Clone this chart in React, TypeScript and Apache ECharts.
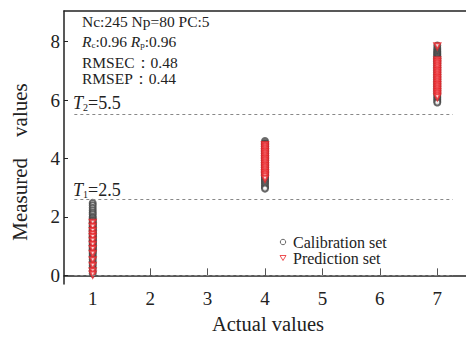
import React, { useEffect, useRef } from "react";
import * as echarts from "echarts";

const xTicks = [1, 2, 3, 4, 5, 6, 7];
const yTicks = [0, 2, 4, 6, 8];
const thresholds = [0, 2.6, 5.5];
const thresholdSpan = [0.68, 7.27];
const legendNames = ["Calibration set", "Prediction set"];
const xName = "Actual values";
const yName = "Measured    values";

const calX = [1, 4, 7];
const cal1 = [2.48, 2.4, 2.31, 2.23, 2.15, 2.09, 2.01, 1.96, 1.9, 1.86, 1.81, 1.78, 1.74, 1.7, 1.67, 1.62, 1.58, 1.55, 1.51, 1.48, 1.45, 1.41, 1.38, 1.35, 1.31, 1.28, 1.25, 1.21, 1.18, 1.15, 1.12, 1.08, 1.05, 1.01, 0.98, 0.95, 0.91, 0.88, 0.84, 0.8, 0.75, 0.69, 0.62, 0.55, 0.47, 0.4, 0.33, 0.24, 0.15, 0.06];
const cal4 = [4.6, 4.53, 4.5, 4.47, 4.44, 4.41, 4.38, 4.35, 4.32, 4.29, 4.26, 4.23, 4.2, 4.17, 4.13, 4.1, 4.06, 4.02, 3.98, 3.94, 3.9, 3.86, 3.82, 3.78, 3.74, 3.7, 3.66, 3.62, 3.58, 3.54, 3.5, 3.45, 3.4, 3.35, 3.3, 3.25, 3.2, 3.14, 3.08, 3.02, 2.97];
const cal7 = [7.87, 7.78, 7.72, 7.67, 7.63, 7.59, 7.55, 7.51, 7.47, 7.43, 7.39, 7.35, 7.31, 7.27, 7.22, 7.17, 7.12, 7.07, 7.02, 6.97, 6.92, 6.87, 6.82, 6.77, 6.72, 6.67, 6.62, 6.57, 6.52, 6.47, 6.42, 6.37, 6.32, 6.26, 6.2, 6.14, 6.08, 6.03, 5.97, 5.92];
const pred1 = [1.8, 1.66, 1.52, 1.4, 1.31, 1.18, 1.05, 0.9, 0.74, 0.52, 0.33, 0.14, 0.03];
const pred4 = [4.46, 4.4, 4.34, 4.28, 4.22, 4.16, 4.1, 4.04, 3.98, 3.92, 3.86, 3.8, 3.74, 3.68, 3.62, 3.56, 3.5, 3.44, 3.38, 3.31];
const pred7 = [7.84, 7.36, 7.3, 7.24, 7.18, 7.12, 7.06, 7.0, 6.94, 6.88, 6.82, 6.76, 6.7, 6.64, 6.58, 6.52, 6.46, 6.4, 6.34, 6.28, 6.22, 6.16, 6.1];

const FONT = "'Liberation Serif', 'Times New Roman', serif";
const INK = "#222";
const GREY = "#444";
const RED = "#e8262a";

export default function App() {
  const ref = useRef<HTMLDivElement>(null);
  useEffect(() => {
    if (!ref.current) return;
    const chart = echarts.init(ref.current, null, { renderer: "svg" });
    const calData: number[][] = [];
    [cal1, cal4, cal7].forEach((arr, i) => arr.forEach((v) => calData.push([calX[i], v])));
    const predData: number[][] = [];
    [pred1, pred4, pred7].forEach((arr, i) => arr.forEach((v) => predData.push([calX[i], v])));

    const axisLine = { show: true, lineStyle: { color: INK, width: 1.5 } };
    const txt = (text: string, x: number, y: number, size = 15.5) => ({
      type: "text",
      x,
      y,
      style: { text, fontFamily: FONT, fontSize: size, fill: INK, verticalAlign: "middle" },
    });
    const richSub = (size: number, sub: number, lh: number) => ({
      i: { fontFamily: FONT, fontStyle: "italic", fontSize: size, lineHeight: lh, verticalAlign: "bottom" },
      s: { fontFamily: FONT, fontSize: sub, lineHeight: Math.round(lh * 0.6), verticalAlign: "bottom" },
      n: { fontFamily: FONT, fontSize: size, lineHeight: lh, verticalAlign: "bottom" },
    });
    const option: any = {
      animation: false,
      textStyle: { fontFamily: FONT },
      grid: { left: 64, right: -3, top: 11, bottom: 49 },
      xAxis: [
        {
          type: "value",
          min: 0.5,
          max: 7.5,
          name: xName,
          nameLocation: "middle",
          nameGap: 24,
          nameTextStyle: { fontFamily: FONT, fontSize: 20.5, color: INK, padding: [0, 0, 0, 6] },
          axisLine,
          axisTick: { show: true, inside: true, length: 7, customValues: xTicks, lineStyle: { color: "#555" } },
          axisLabel: { customValues: xTicks, fontFamily: FONT, fontSize: 19, color: INK, margin: 5 },
          splitLine: { show: false },
        },
        {
          type: "value",
          position: "top",
          min: 0.5,
          max: 7.5,
          axisLine,
          axisTick: { show: false },
          axisLabel: { show: false },
          splitLine: { show: false },
        },
      ],
      yAxis: {
        type: "value",
        min: -0.3,
        max: 9.05,
        axisLine,
        axisTick: { show: true, inside: true, length: 4, customValues: yTicks, lineStyle: { color: INK } },
        axisLabel: { customValues: yTicks, fontFamily: FONT, fontSize: 19, color: INK, margin: 4 },
        splitLine: { show: false },
      },
      series: [
        {
          name: legendNames[0],
          type: "scatter",
          symbol: "emptyCircle",
          symbolSize: 6,
          itemStyle: { color: GREY, borderColor: GREY, borderWidth: 0.6 },
          data: calData,
          markLine: {
            silent: true,
            symbol: ["none", "none"],
            label: { show: false },
            lineStyle: { color: "#888", width: 1, type: [3, 3] },
            data: thresholds.map((t) => [
              { coord: [thresholdSpan[0], t] },
              { coord: [thresholdSpan[1], t] },
            ]),
          },
        },
        {
          name: legendNames[1],
          type: "scatter",
          symbol: "emptyTriangle",
          symbolRotate: 180,
          symbolSize: 6,
          itemStyle: { color: RED, borderColor: RED, borderWidth: 0.6 },
          data: predData,
        },
      ],
      graphic: [
        {
          type: "text",
          x: 20,
          y: 162,
          rotation: Math.PI / 2,
          style: { text: yName, fontFamily: FONT, fontSize: 21, fill: INK, align: "center", verticalAlign: "middle" },
        },
        txt("Nc:245 Np=80 PC:5", 82, 21),
        {
          type: "text",
          left: 82,
          top: 33,
          style: { text: "{i|R}{s|c}{n|:0.96 }{i|R}{s|p}{n|:0.96}", fill: INK, rich: richSub(15.5, 9, 16) },
        },
        txt("RMSEC：0.48", 82, 62),
        txt("RMSEP：0.44", 82, 78),
        {
          type: "text",
          left: 73,
          top: 94,
          style: { text: "{i|T}{s|2}{n|=5.5}", fill: INK, rich: richSub(18, 10, 19) },
        },
        {
          type: "text",
          left: 73,
          top: 181,
          style: { text: "{i|T}{s|1}{n|=2.5}", fill: INK, rich: richSub(18, 10, 19) },
        },
        {
          type: "circle",
          shape: { cx: 283, cy: 242, r: 2.7 },
          style: { fill: "none", stroke: GREY, lineWidth: 0.8 },
        },
        {
          type: "polygon",
          shape: { points: [[280, 255.5], [286, 255.5], [283, 260.5]] },
          style: { fill: "none", stroke: RED, lineWidth: 0.8 },
        },
        txt(legendNames[0], 293, 242, 16),
        txt(legendNames[1], 293, 258, 16),
      ],
    };
    chart.setOption(option);
    return () => chart.dispose();
  }, []);
  return <div ref={ref} style={{ width: 466, height: 339, position: "absolute", left: 0, top: 0 }} />;
}
